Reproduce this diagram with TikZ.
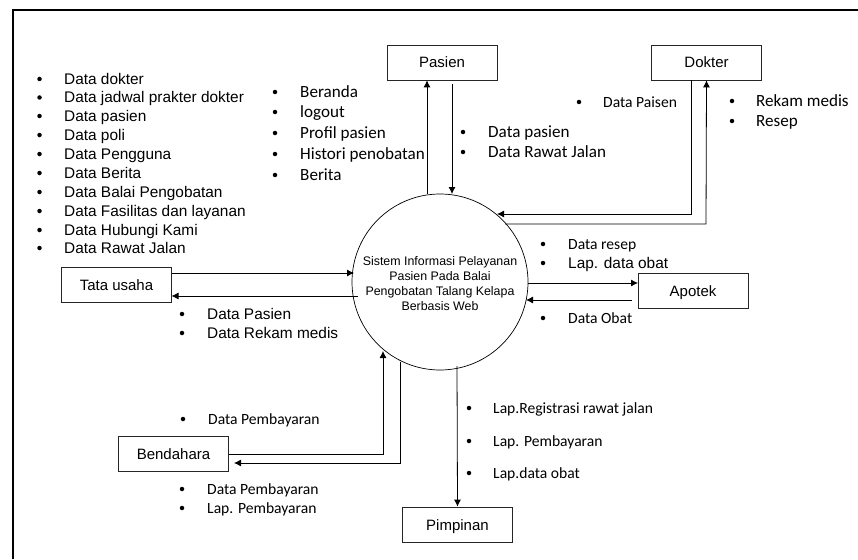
\documentclass[tikz,border=0pt]{standalone}
\usepackage{fontspec}
\setmainfont{Liberation Sans}
\newfontfamily\carl{Carlito}
\usetikzlibrary{arrows.meta}
\tikzset{
  x=1pt,y=-1pt,
  ent/.style={draw=black!85,line width=0.8pt,minimum width=110pt,minimum height=35pt,inner sep=0pt,text height=11pt,text depth=0pt,font=\fontsize{15}{16}\selectfont,fill=white},
  flow/.style={draw=black,line width=0.8pt,-{Latex[length=7pt,width=7pt]}},
  dotm/.style={circle,fill=black,inner sep=0pt,minimum size=4.5pt},
  lab/.style={anchor=base west,inner sep=0pt,yshift=-5.3pt},
  ar/.style={lab,font=\fontsize{15.4}{16}\selectfont},
  cb/.style={lab,font=\carl\fontsize{17.1}{18}\selectfont},
  cs/.style={lab,font=\carl\fontsize{15.6}{16}\selectfont},
}
\newcommand{\itm}[6]{%
  \node[dotm] (b#1) at (#2,#4) {};
  \node[#5] (t#1) at (#3,#4) {#6};}
\begin{document}
\begin{tikzpicture}
\useasboundingbox (0,0) rectangle (858,559);
\draw[line width=1.6pt] (13,559) -- (13,10) -- (858,10);
\node[circle,draw,line width=0.7pt,minimum size=176pt,inner sep=0pt] (sys) at (440,282) {};
\node[align=center,inner sep=0pt,font=\fontsize{12.4}{15}\selectfont] (systext) at (440,283.5)
 {Sistem Informasi Pelayanan\\Pasien Pada Balai\\Pengobatan Talang Kelapa\\Berbasis Web};
\node[ent] (pasien) at (442,62.5) {Pasien};
\node[ent] (dokter) at (706.5,62.5) {Dokter};
\node[ent] (tata) at (116.5,284.5) {Tata usaha};
\node[ent] (apotek) at (693,291) {Apotek};
\node[ent] (bend) at (173.5,454) {Bendahara};
\node[ent] (pimp) at (457.5,524.5) {Pimpinan};
\coordinate (c1) at (427,194);
\coordinate (c2) at (452,84);
\coordinate (c3) at (452,194);
\draw[flow] (c1) -- (c1 |- pasien.south);
\draw[flow] (c2) -- (c3);
\coordinate (d1) at (691,80);
\coordinate (d2) at (691,214);
\coordinate (d3) at (497,214);
\draw[flow] (d1) -- (d2) -- (d3);
\coordinate (e1) at (505,224);
\coordinate (e2) at (706,224);
\draw[flow] (e1) -- (e2) -- (dokter.south);
\coordinate (f1) at (171.5,273);
\coordinate (f2) at (354,273);
\draw[flow] (f1) -- (f2);
\coordinate (g1) at (358,296);
\coordinate (g2) at (171.5,296);
\draw[flow] (g1) -- (g2);
\coordinate (h1) at (528,283);
\coordinate (h2) at (638,283);
\draw[flow] (h1) -- (h2);
\coordinate (i1) at (632,300);
\coordinate (i2) at (526,300);
\draw[flow] (i1) -- (i2);
\coordinate (j1) at (229,454);
\coordinate (j2) at (383,454);
\coordinate (j3) at (383,351);
\draw[flow] (j1) -- (j2) -- (j3);
\coordinate (k1) at (400,362);
\coordinate (k2) at (400,463);
\coordinate (k3) at (234,463);
\draw[flow] (k1) -- (k2) -- (k3);
\coordinate (l1) at (457,366);
\draw[flow] (l1) -- (pimp.north);
\itm{a1}{39.5}{64}{79}{ar}{Data dokter}
\itm{a2}{39.5}{64}{97.5}{ar}{Data jadwal prakter dokter}
\itm{a3}{39.5}{64}{116}{ar}{Data pasien}
\itm{a4}{39.5}{64}{135}{ar}{Data poli}
\itm{a5}{39.5}{64}{154}{ar}{Data Pengguna}
\itm{a6}{39.5}{64}{173}{ar}{Data Berita}
\itm{a7}{39.5}{64}{192}{ar}{Data Balai Pengobatan}
\itm{a8}{39.5}{64}{211}{ar}{Data Fasilitas dan layanan}
\itm{a9}{39.5}{64}{230}{ar}{Data Hubungi Kami}
\itm{a10}{39.5}{64}{248}{ar}{Data Rawat Jalan}
\itm{p1}{275}{300}{92}{cb}{Beranda}
\itm{p2}{275}{300}{112}{cb}{logout}
\itm{p3}{275}{300}{133}{cb}{Profil pasien}
\itm{p4}{275}{300}{154}{cb}{Histori penobatan}
\itm{p5}{275}{300}{175}{cb}{Berita}
\itm{q1}{463}{488}{132}{cb}{Data pasien}
\itm{q2}{463}{488}{152}{cb}{Data Rawat Jalan}
\itm{d1}{579}{603}{102}{cs}{Data Paisen}
\itm{r1}{732}{756}{101}{cb}{Rekam medis}
\itm{r2}{732}{756}{121}{cb}{Resep}
\itm{s1}{543}{568}{244}{cs}{Data resep}
\itm{s2}{543}{568}{263}{ar}{Lap. data obat}
\itm{o1}{543}{568}{318}{cs}{Data Obat}
\itm{u1}{182}{207}{314}{ar}{Data Pasien}
\itm{u2}{182}{207}{333}{ar}{Data Rekam medis}
\itm{v1}{183}{208}{419}{cs}{Data Pembayaran}
\itm{w1}{182}{207}{489}{cs}{Data Pembayaran}
\itm{w2}{182}{207}{508}{cs}{Lap. Pembayaran}
\itm{x1}{469}{493}{408}{cs}{Lap.Registrasi rawat jalan}
\itm{x2}{469}{493}{441}{cs}{Lap. Pembayaran}
\itm{x3}{469}{493}{473}{cs}{Lap.data obat}
\end{tikzpicture}
\end{document}
